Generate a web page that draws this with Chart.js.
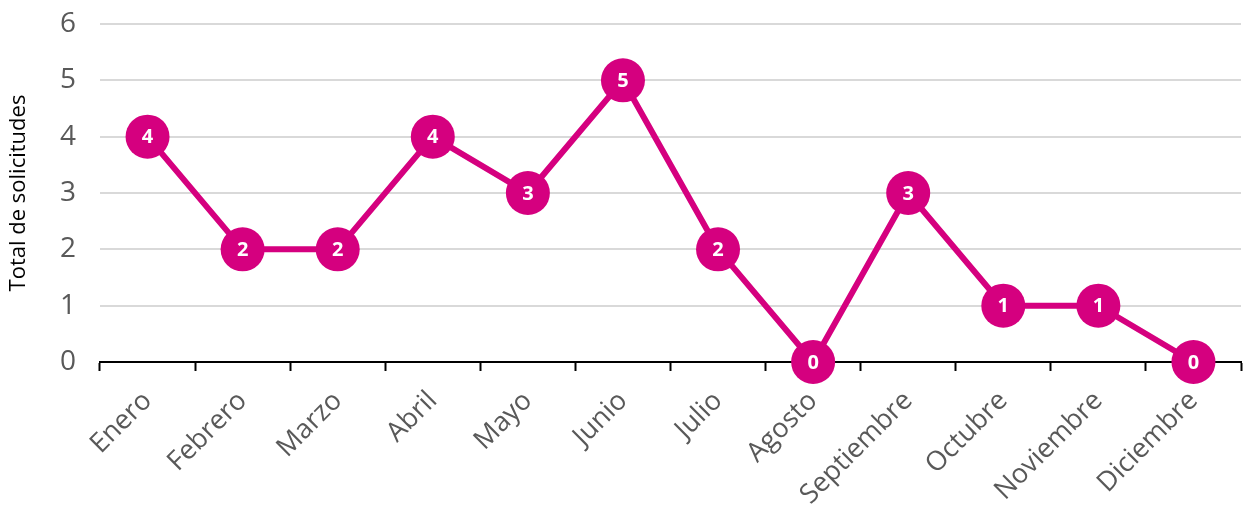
<!DOCTYPE html>
<html>
<head>
<meta charset="utf-8">
<script src="https://cdn.jsdelivr.net/npm/chart.js@4/dist/chart.umd.min.js"></script>
<style>
  html, body { margin: 0; padding: 0; background: #fff; }
  #wrap { width: 1244px; height: 508px; }
</style>
</head>
<body>
<div id="wrap"><canvas id="chart"></canvas></div>
<script>
// Datos del gráfico
const meses = ["Enero", "Febrero", "Marzo", "Abril", "Mayo", "Junio", "Julio", "Agosto", "Septiembre", "Octubre", "Noviembre", "Diciembre"];
const solicitudes = [4, 2, 2, 4, 3, 5, 2, 0, 3, 1, 1, 0];
const ticksY = [0, 1, 2, 3, 4, 5, 6];

const magenta = "#d5007f";
const fuente = "'Open Sans', Lato, sans-serif";

// Etiquetas blancas dentro de cada punto
const etiquetas = {
  id: "etiquetas",
  afterDatasetsDraw(chart) {
    const ctx = chart.ctx;
    const meta = chart.getDatasetMeta(0);
    ctx.save();
    ctx.fillStyle = "#fff";
    ctx.font = "bold 20px " + fuente;
    ctx.textAlign = "center";
    ctx.textBaseline = "middle";
    meta.data.forEach((pt, i) => {
      ctx.fillText(String(solicitudes[i]), pt.x, pt.y + 1);
    });
    ctx.restore();
  }
};

new Chart(document.getElementById("chart").getContext("2d"), {
  type: "line",
  data: {
    labels: meses,
    datasets: [{
      label: "Total de solicitudes",
      data: solicitudes,
      borderColor: magenta,
      backgroundColor: magenta,
      borderWidth: 6,
      pointRadius: 22,
      pointHoverRadius: 22,
      pointBorderWidth: 0,
      pointBackgroundColor: magenta,
      tension: 0,
      clip: false
    }]
  },
  options: {
    responsive: true,
    maintainAspectRatio: false,
    animation: false,
    layout: { autoPadding: false, padding: { top: 24, right: 3, left: 0, bottom: 0 } },
    plugins: {
      legend: { display: false },
      tooltip: { enabled: false }
    },
    scales: {
      x: {
        offset: true,
        grid: {
          display: true,
          drawOnChartArea: false,
          drawTicks: true,
          tickLength: 9,
          tickWidth: 2,
          tickColor: "#000",
          offset: true
        },
        border: { display: true, color: "#000", width: 2 },
        ticks: {
          color: "#595959",
          font: { family: fuente, size: 27 },
          maxRotation: 45,
          minRotation: 45,
          padding: 14,
          autoSkip: false
        },
        afterFit(scale) {
          scale.height = 146;
          scale.paddingRight = 0;
          scale.paddingLeft = 0;
        }
      },
      y: {
        min: 0,
        max: 6,
        afterBuildTicks(scale) { scale.ticks = ticksY.map(v => ({ value: v })); },
        grid: { color: "#d9d9d9", lineWidth: 2, drawTicks: false },
        border: { display: false },
        ticks: {
          color: "#595959",
          font: { family: fuente, size: 28 },
          padding: 24
        },
        title: {
          display: true,
          text: "Total de solicitudes",
          color: "#000",
          font: { family: fuente, size: 22 },
          padding: { top: 6, bottom: 4 }
        },
        afterFit(scale) {
          scale.width = 100;
          scale.paddingTop = 0;
          scale.paddingBottom = 0;
        }
      }
    }
  },
  plugins: [etiquetas]
});
</script>
</body>
</html>
